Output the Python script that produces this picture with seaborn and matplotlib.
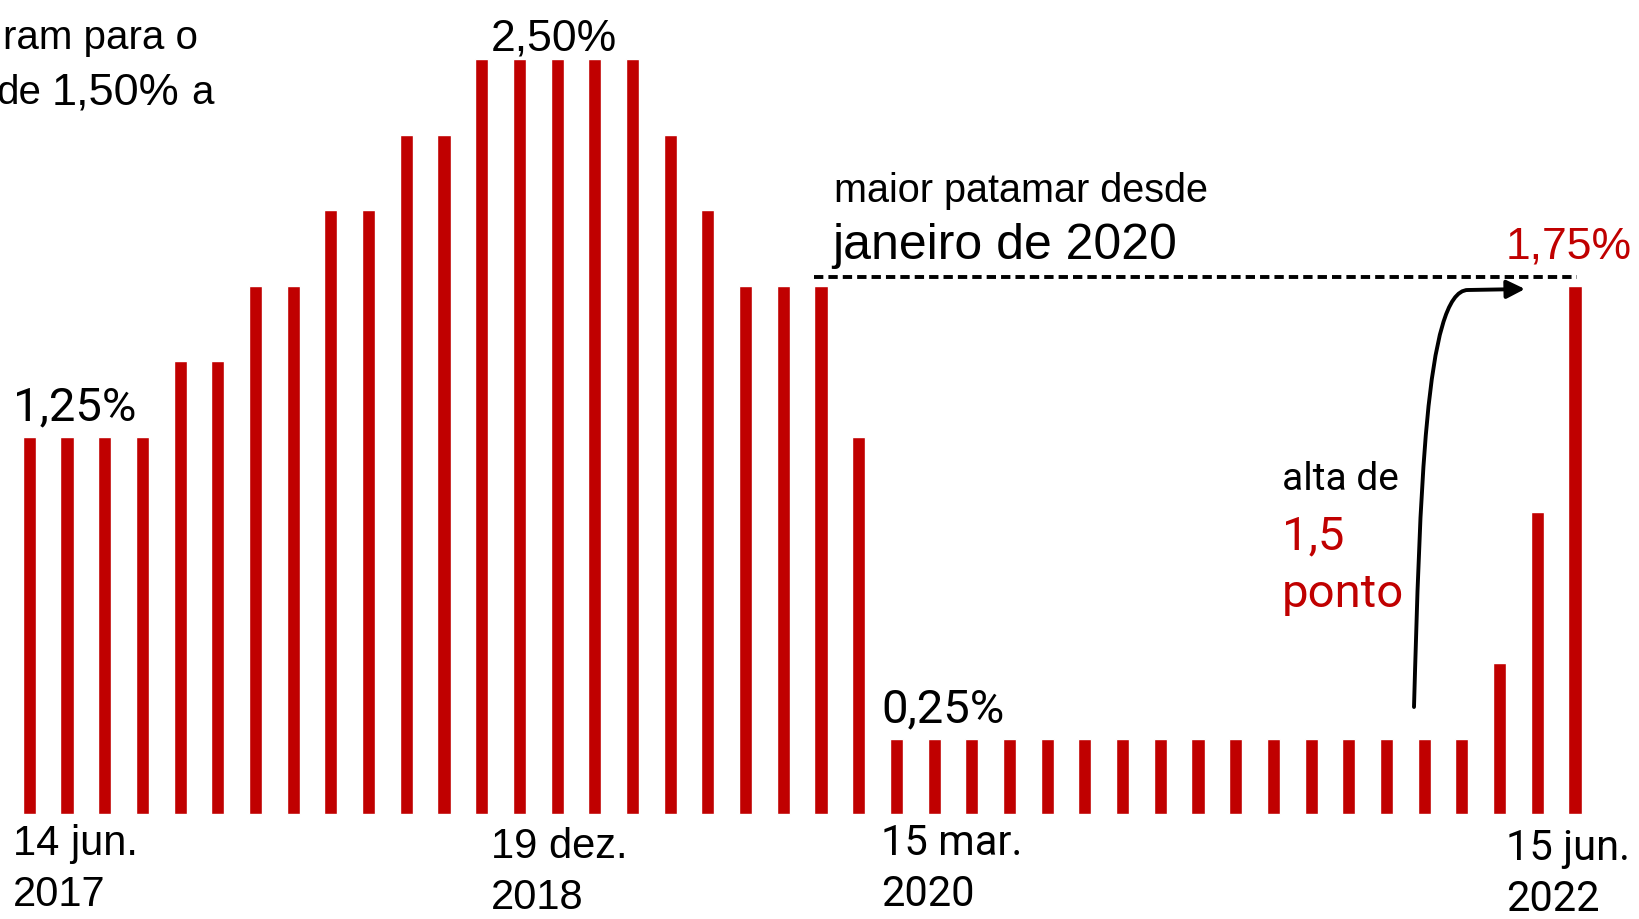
import matplotlib
matplotlib.use('Agg')
import matplotlib.pyplot as plt
import pandas as pd
import seaborn as sns
from matplotlib.path import Path
from matplotlib.patches import FancyArrowPatch

# Taxa de juros (teto) a cada reunião, jun. 2017 -> jun. 2022
reunioes = list(range(42))
taxas = [1.25, 1.25, 1.25, 1.25, 1.50, 1.50, 1.75, 1.75, 2.00, 2.00,
         2.25, 2.25, 2.50, 2.50, 2.50, 2.50, 2.50, 2.25, 2.00, 1.75,
         1.75, 1.75, 1.25, 0.25, 0.25, 0.25, 0.25, 0.25, 0.25, 0.25,
         0.25, 0.25, 0.25, 0.25, 0.25, 0.25, 0.25, 0.25, 0.25, 0.50,
         1.00, 1.75]
datas = ['14 jun.\n2017', '19 dez.\n2018', '15 mar.\n2020', '15 jun.\n2022']

VERMELHO = '#c00000'
SANS = ['Liberation Sans', 'DejaVu Sans']
ROBOTO = ['Roboto', 'DejaVu Sans']

df = pd.DataFrame({'reuniao': reunioes, 'taxa': taxas})

sns.set_style('white')
plt.rcParams['font.family'] = ['DejaVu Sans']

W, H = 1640, 920
# posição em pixels da barra 0, passo entre barras, linha de base e escala
X0, DX, Y0, SC = 29.3, 37.7, 815, 302

fig = plt.figure(figsize=(16.4, 9.2), dpi=100)
ax = fig.add_axes([0, 0, 1, 1])
sns.barplot(data=df, x='reuniao', y='taxa', color=VERMELHO, saturation=1,
            width=0.35, ax=ax)
ax.set_xlim(-X0 / DX, (W - X0) / DX)
ax.set_ylim(-(H - Y0) / SC, Y0 / SC)
ax.axis('off')


def px2data(px, py):
    return ((px - X0) / DX, (Y0 - py) / SC)


def txt(px, py, s, size, family, color='black'):
    fig.text(px / W, 1 - py / H, s, fontsize=size, family=family,
             color=color, ha='left', va='baseline')


# texto cortado no canto superior esquerdo
txt(3, 49, 'ram para o', 29, SANS)
txt(-4, 104, 'de', 29, SANS)
txt(52, 104, '1,50%', 32.5, SANS)
txt(191, 104, 'a', 29, SANS)

# rótulos de valores
txt(491, 50, '2,50%', 32, SANS)
txt(13, 420, '1,25%', 34, ROBOTO)
txt(881, 722, '0,25%', 34, ROBOTO)
txt(1506, 258, '1,75%', 32, SANS, VERMELHO)

txt(834, 202, 'maior patamar desde', 28.5, SANS)
txt(832, 259, 'janeiro de 2020', 36, SANS)

txt(1282, 490, 'alta de', 28, ROBOTO)
txt(1282, 549, '1,5', 34, ROBOTO, VERMELHO)
txt(1282, 607, 'ponto', 34, ROBOTO, VERMELHO)

# datas no eixo
pos_datas = [(13, 855, SANS), (491, 858, SANS), (881, 855, ROBOTO), (1506, 860, ROBOTO)]
for (px, py, fam), d in zip(pos_datas, datas):
    l1, l2 = d.split('\n')
    txt(px, py, l1, 30, fam)
    txt(px, py + 51, l2, 30, fam)

# linha tracejada no nível de 1,75%
(xa, ya), (xb, _) = px2data(814, 278), px2data(1577, 278)
ax.plot([xa, xb], [ya, ya], color='black', lw=2.8, ls=(0, (2.4, 1.3)))

# seta curva
pts = [px2data(*p) for p in [(1414, 708), (1420, 500), (1425, 291),
                             (1468, 291), (1525, 290)]]
caminho = Path(pts, [Path.MOVETO, Path.CURVE4, Path.CURVE4, Path.CURVE4,
                     Path.LINETO])
seta = FancyArrowPatch(path=caminho, arrowstyle='-|>,head_length=11,head_width=5.5',
                       mutation_scale=1, color='black', lw=2.8,
                       transform=ax.transData)
ax.add_patch(seta)

fig.savefig('out.png', dpi=100)
